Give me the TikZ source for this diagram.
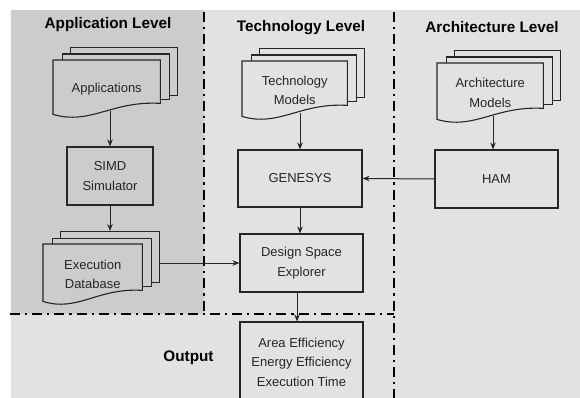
\documentclass[tikz,border=0pt]{standalone}
\usepackage{fontspec}
\setmainfont{Liberation Sans}
\usetikzlibrary{arrows.meta,calc}
\definecolor{bggray}{RGB}{226,226,226}
\definecolor{panelgray}{RGB}{204,204,204}
\definecolor{ink}{RGB}{38,38,38}
\tikzset{
  txt/.style={font=\fontsize{13}{19.5}\selectfont, align=center, text=ink, inner sep=0pt},
  ttl/.style={font=\fontsize{15.3}{18}\selectfont\bfseries, text=black, inner sep=0pt, anchor=base},
  page/.style={draw=ink, line width=1.1pt, anchor=north west, inner sep=0pt},
  docline/.style={draw=ink, line width=1.1pt},
  procbox/.style={draw=ink, line width=1.1pt, txt, inner sep=0pt},
  divider/.style={line width=2.8pt, black, dash pattern=on 10pt off 5pt on 2.2pt off 5pt},
  conn/.style={draw=ink, line width=1pt, -{Stealth[length=7pt,width=5.5pt]}}
}
% name, x0, top, x1, right-corner y, fill, text
\newcommand\mdoc[7]{%
  \pgfmathsetmacro\mdw{#4-#2}%
  \pgfmathsetmacro\mdhA{#5-#3+5}%
  \pgfmathsetmacro\mdhB{#5-#3+2.5}%
  \pgfmathsetmacro\mdhF{#5-#3+8}%
  \node[page, fill=#6, minimum width=\mdw pt, minimum height=\mdhA pt] (#1c) at (#2+17,#3-13) {};
  \node[page, fill=#6, minimum width=\mdw pt, minimum height=\mdhB pt] (#1b) at (#2+8.5,#3-6.5) {};
  \node[inner sep=0pt, anchor=north west, minimum width=\mdw pt, minimum height=\mdhF pt] (#1) at (#2,#3) {};
  \filldraw[docline, fill=#6] (#1.north west) -- (#1.north east) -- ($(#1.south east)+(0,-8)$)
     .. controls +(-0.45*\mdw,-3) and +(0.35*\mdw,11) .. ($(#1.south west)+(0,3)$) -- cycle;
  \node[txt] (#1t) at ($(#1.center)+(0,3)$) {#7};
}
\begin{document}
\begin{tikzpicture}[x=1pt,y=-1pt]
\useasboundingbox (0,0) rectangle (580,398);
\clip (0,0) rectangle (580,398);
\fill[white] (0,0) rectangle (580,398);
\fill[bggray] (11,10) rectangle (580,398);
\fill[panelgray] (11,10) rectangle (204,314);

% dividers
\draw[divider] (204,12) -- (204,314);
\draw[divider] (394,12) -- (394,398);
\draw[divider] (10,314) -- (394,314);

% titles
\node[ttl] (tapp) at (108,29) {Application Level};
\node[ttl] (ttech) at (301,32) {Technology Level};
\node[ttl] (tarch) at (492,33) {Architecture Level};
\node[ttl] (tout) at (188.5,361) {Output};

% documents
\mdoc{apps}{53}{60}{160}{103}{panelgray}{Applications}
\mdoc{tech}{242}{61}{347}{105}{bggray}{Technology\\Models}
\mdoc{arch}{437}{63}{543}{108}{bggray}{Architecture\\Models}
\mdoc{exec}{43}{244}{142}{290}{panelgray}{Execution\\Database}

% boxes
\node[procbox, fill=panelgray, minimum width=86pt, minimum height=58pt] (simd) at (110,176) {SIMD\\Simulator};
\node[procbox, fill=bggray, minimum width=124pt, minimum height=57pt] (gen) at (300,178.5) {GENESYS};
\node[procbox, fill=bggray, minimum width=123pt, minimum height=58pt] (ham) at (496.5,179) {HAM};
\node[procbox, fill=bggray, minimum width=123pt, minimum height=58pt] (dse) at (301.5,263) {Design Space\\Explorer};
\node[procbox, fill=bggray, minimum width=123pt, minimum height=80pt] (out) at (301.5,362) {Area Efficiency\\Energy Efficiency\\Execution Time};

% connectors
\draw[conn] (simd.north |- apps.south) -- (simd.north);
\draw[conn] (simd.south) -- (simd.south |- execc.north);
\draw[conn] (gen.north |- tech.south) -- (gen.north);
\draw[conn] ($(ham.north |- arch.south)+(-3.5,0)$) -- ($(ham.north)+(-3.5,0)$);
\draw[conn] (ham.west) -- (gen.east);
\draw[conn] (gen.south) -- (gen.south |- dse.north);
\draw[conn] (dse.west -| execc.east) -- (dse.west);
\draw[conn] ($(dse.south)+(-4.5,0)$) -- ($(out.north)+(-4.5,0)$);
\end{tikzpicture}
\end{document}
